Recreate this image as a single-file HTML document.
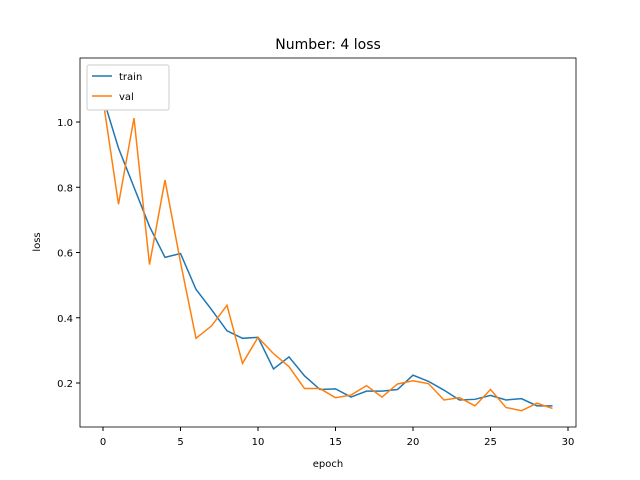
<!DOCTYPE html>
<html><head><meta charset="utf-8"><style>body{margin:0;background:#fff}svg{display:block;font-family:"DejaVu Sans","Liberation Sans",sans-serif}</style></head>
<body>
<svg id="c" width="640" height="480"></svg>
<script>
const epochs=[0,1,2,3,4,5,6,7,8,9,10,11,12,13,14,15,16,17,18,19,20,21,22,23,24,25,26,27,28,29];
const trainLoss=[1.075,0.92,0.80,0.68,0.585,0.597,0.487,0.425,0.36,0.337,0.34,0.243,0.28,0.222,0.18,0.182,0.157,0.175,0.175,0.18,0.224,0.205,0.178,0.148,0.15,0.162,0.148,0.152,0.13,0.13];
const valLoss=[1.068,0.748,1.012,0.563,0.822,0.57,0.337,0.375,0.438,0.26,0.34,0.29,0.25,0.183,0.183,0.155,0.163,0.192,0.157,0.197,0.207,0.198,0.148,0.155,0.13,0.18,0.125,0.115,0.138,0.122];
const xTicks=[0,5,10,15,20,25,30];
const yTicks=[0.2,0.4,0.6,0.8,1.0];
const NS="http://www.w3.org/2000/svg",svg=document.getElementById('c');
const L=80,R=576,T=58,B=427;
const xs=v=>103+v*15.5, ys=v=>448.25-v*326.25;
function el(t,a,p){const e=document.createElementNS(NS,t);for(const k in a)e.setAttribute(k,a[k]);(p||svg).appendChild(e);return e;}
const ttl=el('text',{x:328,y:49,'text-anchor':'middle','font-size':14});ttl.textContent='Number: 4 loss';

xTicks.forEach(v=>{const x=xs(v);el('line',{x1:x,x2:x,y1:B,y2:B+4,stroke:'#000'});const t=el('text',{x:x,y:B+18,'text-anchor':'middle','font-size':10});t.textContent=v;
});
yTicks.forEach(v=>{const y=ys(v);el('line',{x1:L-4,x2:L,y1:y,y2:y,stroke:'#000'});const t=el('text',{x:L-7,y:y+4,'text-anchor':'end','font-size':10});t.textContent=v.toFixed(1);
});
const xl=el('text',{x:328,y:467,'text-anchor':'middle','font-size':10});xl.textContent='epoch';

const yl=el('text',{x:40,y:242,'text-anchor':'middle','font-size':10,transform:'rotate(-90 40 242)'});yl.textContent='loss';

function line(d,c,n){const p=el('polyline',{points:d.map((v,i)=>xs(epochs[i])+','+ys(v)).join(' '),fill:'none',stroke:c,'stroke-width':1.5});
}
line(trainLoss,'#1f77b4','train-line');line(valLoss,'#ff7f0e','val-line');
const f=el('rect',{x:L,y:T,width:R-L,height:B-T,fill:'none',stroke:'#000','stroke-width':0.8});

const lg=el('g',{});
el('rect',{x:87,y:65,width:82,height:45,fill:'#fff',stroke:'#ccc',rx:2},lg);
[['train','#1f77b4',76],['val','#ff7f0e',96]].forEach(([n,c,y])=>{el('line',{x1:92,x2:112,y1:y,y2:y,stroke:c,'stroke-width':1.5},lg);const t=el('text',{x:119,y:y+4,'font-size':10},lg);t.textContent=n;
});
</script>
</body></html>
